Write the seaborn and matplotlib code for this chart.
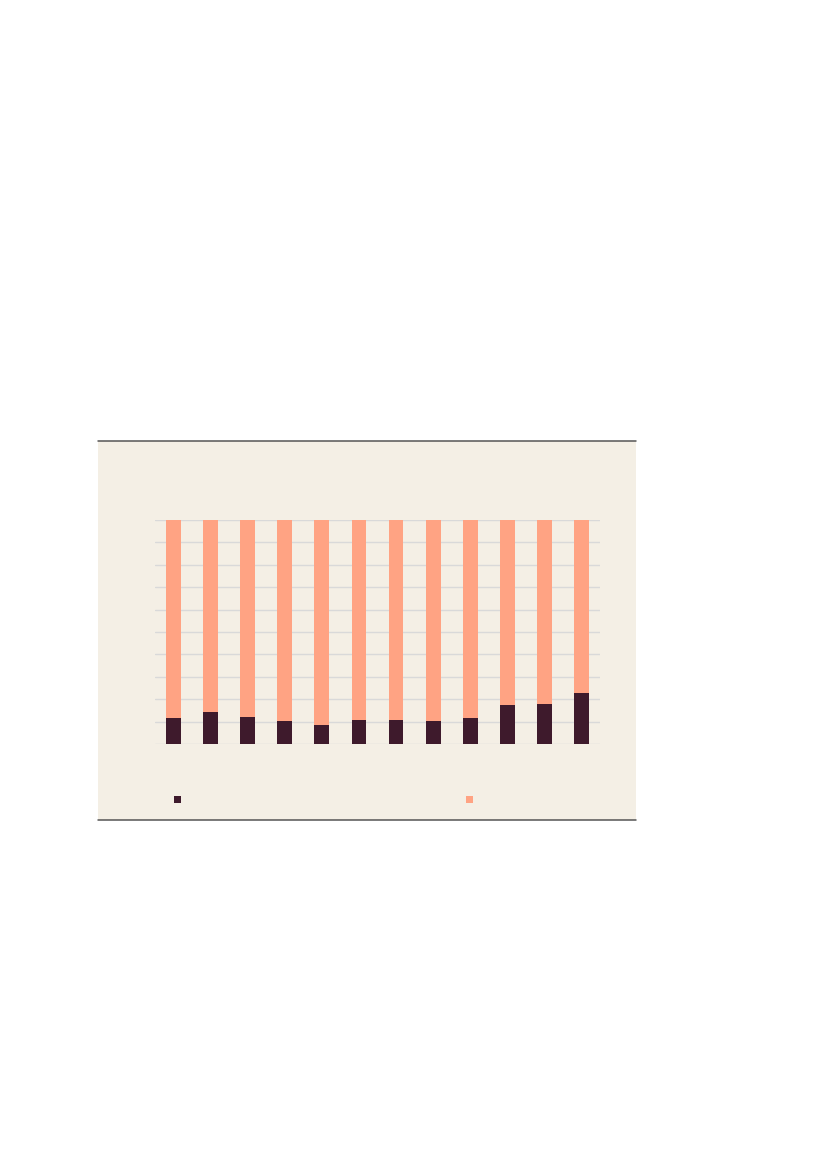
import numpy as np
import pandas as pd
import matplotlib
matplotlib.use('Agg')
import matplotlib.pyplot as plt
import seaborn as sns
from matplotlib.patches import Rectangle, Patch
from matplotlib.lines import Line2D

# data (share in %, stacked to 100)
categories = ['1', '2', '3', '4', '5', '6', '7', '8', '9', '10', '11', '12']
dark_share = [11.7, 14.2, 12.1, 10.4, 8.6, 10.8, 10.8, 10.4, 11.7, 17.5, 17.9, 22.8]
light_share = [100 - v for v in dark_share]

dark_color = '#3E1A2C'
light_color = '#FFA383'
panel_color = '#F4EFE5'

sns.set_style('white')

W, H = 827, 1170
fig = plt.figure(figsize=(W / 100, H / 100), dpi=100)
fig.patch.set_facecolor('white')

# panel background and rules
fig.patches.append(Rectangle((98 / W, 1 - 820 / H), (636 - 98) / W, (820 - 441) / H,
                             transform=fig.transFigure, facecolor=panel_color,
                             edgecolor='none', zorder=-1))
fig.lines.append(Line2D([98 / W, 636 / W], [1 - 441 / H, 1 - 441 / H],
                        transform=fig.transFigure, color='#555555', lw=1.1))
fig.lines.append(Line2D([98 / W, 636 / W], [1 - 820 / H, 1 - 820 / H],
                        transform=fig.transFigure, color='#555555', lw=1.1))

ax = fig.add_axes([155 / W, 1 - 744 / H, (600 - 155) / W, (744 - 520) / H])
ax.set_facecolor('none')

df = pd.DataFrame({'cat': categories, 'dark': dark_share,
                   'total': np.array(dark_share) + np.array(light_share)})

sns.barplot(data=df, x='cat', y='total', color=light_color, width=0.4,
            saturation=1, ax=ax, zorder=2, edgecolor='none', linewidth=0)
sns.barplot(data=df, x='cat', y='dark', color=dark_color, width=0.4,
            saturation=1, ax=ax, zorder=3, edgecolor='none', linewidth=0)

ax.set_xlim(-0.5, len(categories) - 0.5)
ax.set_ylim(0, 100)
ax.set_yticks(np.arange(0, 101, 10))
ax.yaxis.grid(True, color='#D9D9D9', lw=1)
ax.set_axisbelow(True)
ax.tick_params(left=False, bottom=False, labelleft=False, labelbottom=False)
ax.set_xlabel('')
ax.set_ylabel('')
for s in ax.spines.values():
    s.set_visible(False)

# legend markers (no visible text in the reference)
for col, cx in [(dark_color, 177.5), (light_color, 469.5)]:
    fig.legend(handles=[Patch(facecolor=col, edgecolor='none')], labels=[''],
               loc='center', bbox_to_anchor=(cx / W, 1 - 800 / H),
               frameon=False, fontsize=7, handlelength=0.72, handleheight=0.72,
               handletextpad=0, borderpad=0, borderaxespad=0)

fig.savefig('out.png', dpi=100)
